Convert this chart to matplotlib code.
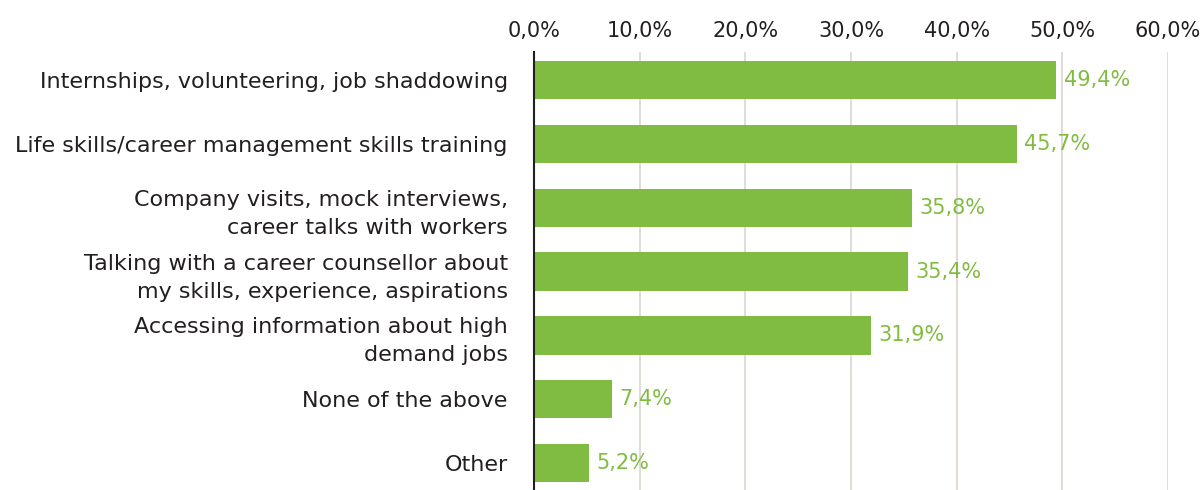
import matplotlib.pyplot as plt
from matplotlib.ticker import FuncFormatter

categories = [
    "Internships, volunteering, job shaddowing",
    "Life skills/career management skills training",
    "Company visits, mock interviews,\ncareer talks with workers",
    "Talking with a career counsellor about\nmy skills, experience, aspirations",
    "Accessing information about high\ndemand jobs",
    "None of the above",
    "Other",
]
values = [49.4, 45.7, 35.8, 35.4, 31.9, 7.4, 5.2]
ticks = [0, 10, 20, 30, 40, 50, 60]

green = "#80bc41"
plt.rcParams['font.family'] = ['DejaVu Sans']

fig = plt.figure(figsize=(12.03, 4.9), dpi=100)
ax = fig.add_axes([0.444, 0.0, 0.527, 0.894])

y = list(range(len(categories)))
ax.barh(y, values, height=0.6, color=green, zorder=3)
for yi, v in zip(y, values):
    ax.text(v + 0.7, yi, f"{v:.1f}%".replace(".", ","), va="center", ha="left",
            color=green, fontsize=15)

ax.set_xlim(0, 60)
ax.set_ylim(6.42, -0.44)
ax.set_xticks(ticks)
ax.xaxis.set_major_formatter(FuncFormatter(lambda v, p: f"{v:.1f}%".replace(".", ",")))
ax.xaxis.tick_top()
ax.set_yticks(y)
ax.set_yticklabels(categories, linespacing=1.5)
ax.tick_params(axis="both", length=0, labelsize=15, colors="#231f20", pad=8)
ax.tick_params(axis="y", pad=19, labelsize=16)
ax.grid(axis="x", color="#dcd6d0", linewidth=1.2, zorder=0)
for s in ["top", "right", "bottom"]:
    ax.spines[s].set_visible(False)
ax.spines["left"].set_color("#231f20")
ax.spines["left"].set_linewidth(1.5)
ax.spines["left"].set_zorder(4)

fig.savefig("out.png", dpi=100)
